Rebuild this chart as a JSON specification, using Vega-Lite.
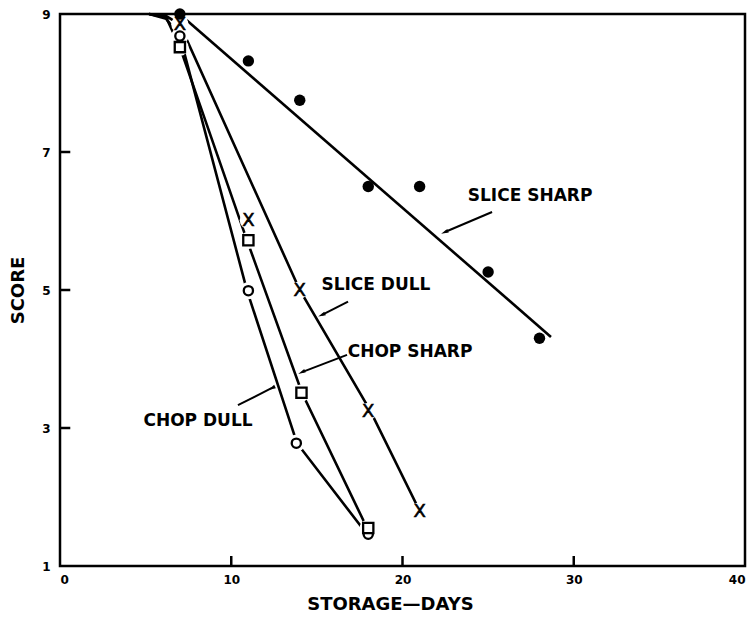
{
  "$schema": "https://vega.github.io/schema/vega-lite/v6.json",
  "autosize": {"type": "none"},
  "padding": {"left": 60, "top": 14, "right": 5, "bottom": 60},
  "width": 685,
  "height": 552,
  "background": "white",
  "config": {
    "view": {"stroke": "black", "strokeWidth": 2.5},
    "font": "DejaVu Sans",
    "axis": {
      "grid": false,
      "domain": false,
      "ticks": false,
      "labelColor": "black",
      "labelFont": "DejaVu Sans",
      "labelFontWeight": "bold",
      "labelFontSize": 12,
      "titleColor": "black",
      "titleFont": "DejaVu Sans",
      "titleFontWeight": "bold",
      "titleFontSize": 18
    }
  },
  "datasets": {
    "pts": [
      {"series": "SLICE SHARP", "day": 7, "score": 9.0},
      {"series": "SLICE SHARP", "day": 11, "score": 8.32},
      {"series": "SLICE SHARP", "day": 14, "score": 7.75},
      {"series": "SLICE SHARP", "day": 18, "score": 6.5},
      {"series": "SLICE SHARP", "day": 21, "score": 6.5},
      {"series": "SLICE SHARP", "day": 25, "score": 5.26},
      {"series": "SLICE SHARP", "day": 28, "score": 4.3},
      {"series": "SLICE DULL", "day": 7, "score": 8.85},
      {"series": "SLICE DULL", "day": 11, "score": 6.01},
      {"series": "SLICE DULL", "day": 14, "score": 5.0},
      {"series": "SLICE DULL", "day": 18, "score": 3.24},
      {"series": "SLICE DULL", "day": 21, "score": 1.8},
      {"series": "CHOP SHARP", "day": 7, "score": 8.52},
      {"series": "CHOP SHARP", "day": 11, "score": 5.72},
      {"series": "CHOP SHARP", "day": 14.1, "score": 3.51},
      {"series": "CHOP SHARP", "day": 18, "score": 1.55},
      {"series": "CHOP DULL", "day": 7, "score": 8.68},
      {"series": "CHOP DULL", "day": 11, "score": 4.99},
      {"series": "CHOP DULL", "day": 13.8, "score": 2.78},
      {"series": "CHOP DULL", "day": 18, "score": 1.46}
    ],
    "curves": [
      {"series": "SLICE SHARP", "day": 7.4, "score": 8.91},
      {"series": "SLICE SHARP", "day": 28.67, "score": 4.32},
      {"series": "SLICE DULL", "day": 5.2, "score": 9.0},
      {"series": "SLICE DULL", "day": 6.2, "score": 8.97},
      {"series": "SLICE DULL", "day": 7.0, "score": 8.85},
      {"series": "SLICE DULL", "day": 14.0, "score": 5.0},
      {"series": "SLICE DULL", "day": 18.1, "score": 3.26},
      {"series": "SLICE DULL", "day": 21.0, "score": 1.8},
      {"series": "CHOP SHARP", "day": 5.2, "score": 9.0},
      {"series": "CHOP SHARP", "day": 6.2, "score": 8.95},
      {"series": "CHOP SHARP", "day": 7.0, "score": 8.52},
      {"series": "CHOP SHARP", "day": 10.92, "score": 5.72},
      {"series": "CHOP SHARP", "day": 14.13, "score": 3.51},
      {"series": "CHOP SHARP", "day": 17.93, "score": 1.55},
      {"series": "CHOP DULL", "day": 5.2, "score": 9.0},
      {"series": "CHOP DULL", "day": 6.2, "score": 8.93},
      {"series": "CHOP DULL", "day": 7.0, "score": 8.68},
      {"series": "CHOP DULL", "day": 10.92, "score": 4.99},
      {"series": "CHOP DULL", "day": 13.84, "score": 2.78},
      {"series": "CHOP DULL", "day": 17.93, "score": 1.46}
    ],
    "arrows": [
      {"series": "SLICE SHARP", "tx": 25.23, "ty": 6.13, "hx": 22.48, "hy": 5.84},
      {"series": "SLICE DULL", "tx": 16.82, "ty": 4.83, "hx": 15.3, "hy": 4.64},
      {"series": "CHOP SHARP", "tx": 16.76, "ty": 4.06, "hx": 14.13, "hy": 3.81},
      {"series": "CHOP DULL", "tx": 10.39, "ty": 3.33, "hx": 12.38, "hy": 3.58}
    ],
    "labels": [
      {"text": "SLICE SHARP", "day": 27.45, "score": 6.36},
      {"text": "SLICE DULL", "day": 18.45, "score": 5.07},
      {"text": "CHOP SHARP", "day": 20.44, "score": 4.1},
      {"text": "CHOP DULL", "day": 8.06, "score": 3.1}
    ],
    "ticks": [
      {"tx": 10, "ty": 1, "hx": 10, "hy": 1.145},
      {"tx": 20, "ty": 1, "hx": 20, "hy": 1.145},
      {"tx": 30, "ty": 1, "hx": 30, "hy": 1.145},
      {"tx": 0, "ty": 3, "hx": 0.6, "hy": 3},
      {"tx": 0, "ty": 5, "hx": 0.6, "hy": 5},
      {"tx": 0, "ty": 7, "hx": 0.6, "hy": 7}
    ]
  },
  "encoding": {
    "x": {
      "field": "day", "type": "quantitative",
      "scale": {"domain": [0, 40], "nice": false, "zero": false},
      "axis": {"values": [0, 10, 20, 30, 40], "title": "STORAGE—DAYS", "labelPadding": 8, "titlePadding": 10, "titleX": 330}
    },
    "y": {
      "field": "score", "type": "quantitative",
      "scale": {"domain": [1, 9], "nice": false, "zero": false},
      "axis": {"values": [1, 3, 5, 7, 9], "title": "SCORE", "labelPadding": 10, "titlePadding": 14}
    }
  },
  "layer": [
    {
      "data": {"name": "ticks"},
      "mark": {"type": "rule", "color": "black", "strokeWidth": 2.5},
      "encoding": {
        "x": {"field": "tx", "type": "quantitative"},
        "y": {"field": "ty", "type": "quantitative"},
        "x2": {"field": "hx"},
        "y2": {"field": "hy"}
      }
    },
    {
      "data": {"name": "curves"},
      "mark": {"type": "line", "color": "black", "strokeWidth": 2.6},
      "encoding": {"detail": {"field": "series"}}
    },
    {
      "data": {"name": "pts"},
      "transform": [{"filter": "datum.series !== 'SLICE SHARP'"}],
      "mark": {"type": "point", "shape": "circle", "filled": true, "color": "white", "opacity": 1, "size": 300}
    },
    {
      "data": {"name": "pts"},
      "transform": [{"filter": "datum.series === 'SLICE SHARP'"}],
      "mark": {"type": "point", "shape": "circle", "filled": true, "color": "black", "opacity": 1, "size": 130}
    },
    {
      "data": {"name": "pts"},
      "transform": [{"filter": "datum.series === 'CHOP DULL'"}],
      "mark": {"type": "point", "shape": "circle", "filled": false, "fill": "white", "fillOpacity": 1, "stroke": "black", "strokeWidth": 2.3, "opacity": 1, "size": 85}
    },
    {
      "data": {"name": "pts"},
      "transform": [{"filter": "datum.series === 'CHOP SHARP'"}],
      "mark": {"type": "point", "shape": "square", "filled": false, "fill": "white", "fillOpacity": 1, "stroke": "black", "strokeWidth": 2.3, "opacity": 1, "size": 105}
    },
    {
      "data": {"name": "pts"},
      "transform": [{"filter": "datum.series === 'SLICE DULL'"}],
      "mark": {"type": "text", "text": "X", "font": "DejaVu Sans", "fontSize": 18, "fontWeight": "normal", "color": "black", "stroke": "black", "strokeWidth": 0.6, "baseline": "middle", "align": "center", "dy": 1}
    },
    {
      "data": {"name": "arrows"},
      "mark": {"type": "rule", "color": "black", "strokeWidth": 2},
      "encoding": {
        "x": {"field": "tx", "type": "quantitative"},
        "y": {"field": "ty", "type": "quantitative"},
        "x2": {"field": "hx"},
        "y2": {"field": "hy"}
      }
    },
    {
      "data": {"name": "arrows"},
      "mark": {"type": "point", "shape": "M0,-1L0.45,0.8L-0.45,0.8Z", "filled": true, "color": "black", "opacity": 1, "size": 70},
      "encoding": {
        "x": {"field": "hx", "type": "quantitative"},
        "y": {"field": "hy", "type": "quantitative"},
        "angle": {
          "field": "series", "type": "nominal",
          "scale": {"domain": ["SLICE SHARP", "SLICE DULL", "CHOP SHARP", "CHOP DULL"], "range": [247, 243, 249, 63]},
          "legend": null
        }
      }
    },
    {
      "data": {"name": "labels"},
      "mark": {"type": "text", "font": "DejaVu Sans", "fontSize": 17, "fontWeight": "bold", "color": "black", "baseline": "middle", "align": "center"},
      "encoding": {"text": {"field": "text"}}
    }
  ]
}
